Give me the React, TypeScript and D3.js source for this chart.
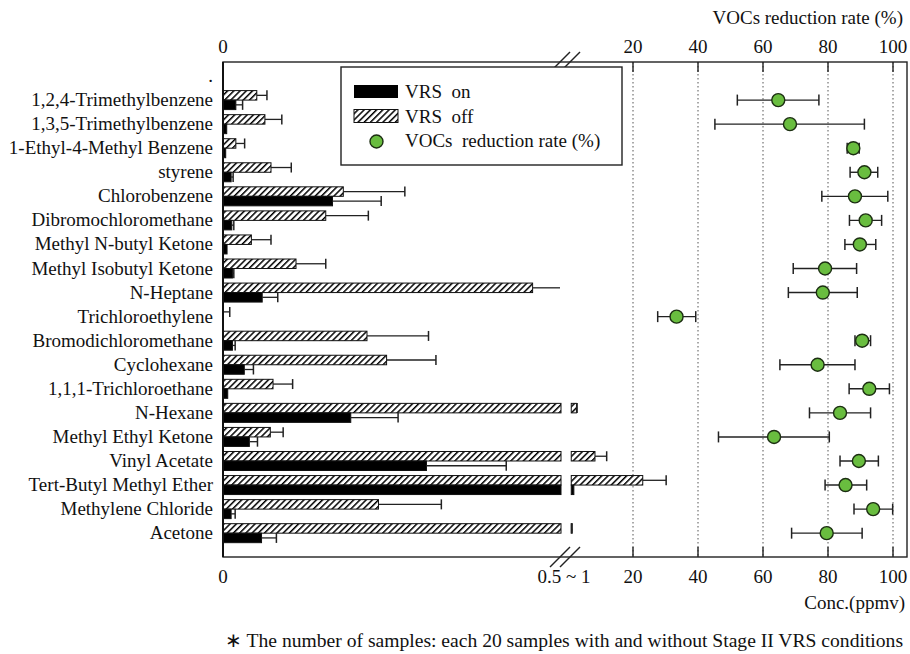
import { useRef, useEffect } from "react";
import * as d3 from "d3";

// categories top to bottom ("." is the empty first row in the original)
const categories = [
  ".",
  "1,2,4-Trimethylbenzene",
  "1,3,5-Trimethylbenzene",
  "1-Ethyl-4-Methyl Benzene",
  "styrene",
  "Chlorobenzene",
  "Dibromochloromethane",
  "Methyl N-butyl Ketone",
  "Methyl Isobutyl Ketone",
  "N-Heptane",
  "Trichloroethylene",
  "Bromodichloromethane",
  "Cyclohexane",
  "1,1,1-Trichloroethane",
  "N-Hexane",
  "Methyl Ethyl Ketone",
  "Vinyl Acetate",
  "Tert-Butyl Methyl Ether",
  "Methylene Chloride",
  "Acetone",
];

// Conc. (ppmv), VRS off (hatched) and its mean+SD end
const vrsOff = [null, 0.05, 0.062, 0.019, 0.071, 0.178, 0.152, 0.042, 0.108, 0.458, 0, 0.213, 0.242, 0.074, 2.6, 0.07, 8.3, 23, 0.23, 1.05];
const vrsOffErr = [null, 0.065, 0.087, 0.032, 0.101, 0.269, 0.215, 0.071, 0.152, 0.52, 0.01, 0.304, 0.315, 0.103, 2.8, 0.089, 11.9, 30.2, 0.323, 1.1];

// Conc. (ppmv), VRS on (black)
const vrsOn = [null, 0.019, 0.0055, 0.004, 0.012, 0.162, 0.013, 0.006, 0.014, 0.058, 0, 0.014, 0.0315, 0.007, 0.189, 0.039, 0.301, 1.8, 0.012, 0.057];
const vrsOnErr = [null, 0.029, 0.0055, 0.004, 0.015, 0.234, 0.016, 0.006, 0.016, 0.081, 0, 0.018, 0.045, 0.007, 0.259, 0.051, 0.419, 1.8, 0.018, 0.079];

// VOCs reduction rate (%) with low / high error ends
const reduction = [null, 64.7, 68.3, 87.8, 91.2, 88.3, 91.6, 89.8, 79.1, 78.4, 33.4, 90.5, 76.8, 92.7, 83.7, 63.4, 89.5, 85.4, 93.9, 79.6];
const reductionLow = [null, 52.1, 45.2, 85.9, 86.8, 78.1, 86.6, 85.2, 69.3, 67.8, 27.6, 88.3, 65.2, 86.5, 74.3, 46.3, 83.7, 79.1, 88.0, 68.8];
const reductionHigh = [null, 77.2, 91.2, 89.6, 95.3, 98.4, 96.5, 94.7, 88.8, 89.0, 39.3, 93.1, 88.3, 98.9, 93.1, 80.4, 95.5, 91.9, 99.9, 90.5];

const rightTicks = [20, 40, 60, 80, 100];

const width = 910;
const height = 654;
const frame = { left: 223, right: 907, top: 62, bottom: 557 };
const FONT = "'Liberation Serif', 'Times New Roman', serif";

const App = () => {
  const svgRef = useRef(null);

  useEffect(() => {
    document.body.style.margin = "0";
    const svg = d3.select(svgRef.current);
    svg.selectAll("*").remove();

    // broken x axis: 0..0.5 on the left, 1..100 on the right
    const xLeft = d3.scaleLinear().domain([0, 0.5]).range([frame.left, 561]);
    const xRight = d3.scaleLinear().domain([20, 100]).range([633, 893]);
    const breakX = 565;

    const y = d3.scaleBand().domain(categories).range([64, 545.2]).padding(0);
    const cy = (c) => y(c) + y.bandwidth() / 2;
    const barH = 9.5;

    const defs = svg.append("defs");
    const pat = defs
      .append("pattern")
      .attr("id", "hatch")
      .attr("patternUnits", "userSpaceOnUse")
      .attr("width", 4.4)
      .attr("height", 4.4)
      .attr("patternTransform", "rotate(45)");
    pat.append("rect").attr("width", 4.4).attr("height", 4.4).attr("fill", "#fff");
    pat.append("line").attr("x1", 0).attr("y1", 0).attr("x2", 0).attr("y2", 4.4)
      .attr("stroke", "#000").attr("stroke-width", 3);

    // dotted grid + inner ticks on the right segment
    rightTicks.forEach((t) => {
      const x = xRight(t);
      svg.append("line").attr("x1", x).attr("x2", x).attr("y1", frame.top).attr("y2", frame.bottom)
        .attr("stroke", "#555").attr("stroke-width", 1).attr("stroke-dasharray", "1.5,2.5");
      svg.append("line").attr("x1", x).attr("x2", x).attr("y1", frame.top).attr("y2", frame.top + 10)
        .attr("stroke", "#222").attr("stroke-width", 1.4);
      svg.append("line").attr("x1", x).attr("x2", x).attr("y1", frame.bottom - 10).attr("y2", frame.bottom)
        .attr("stroke", "#222").attr("stroke-width", 1.4);
    });

    // draw a bar on the broken scale
    const drawBar = (v, yTop, fill) => {
      if (v == null) return;
      const end = v <= 0.5 ? xLeft(v) : xLeft(0.5);
      if (end > frame.left) {
        svg.append("rect").attr("x", frame.left).attr("y", yTop).attr("width", end - frame.left)
          .attr("height", barH).attr("fill", fill).attr("stroke", "#111").attr("stroke-width", 1);
      }
      if (v > 0.5) {
        const s = xRight(1);
        const e = Math.max(xRight(v), s + 1);
        svg.append("rect").attr("x", s).attr("y", yTop).attr("width", e - s)
          .attr("height", barH).attr("fill", fill).attr("stroke", "#111").attr("stroke-width", 1);
      }
    };

    const drawErr = (v, err, yMid) => {
      if (v == null || err == null || err <= v) return;
      let x0, x1, cap = true;
      if (v <= 0.5) {
        x0 = xLeft(v);
        if (err > 0.5) {
          x1 = 560;
          cap = false;
        } else x1 = xLeft(err);
      } else {
        x0 = xRight(v);
        x1 = xRight(err);
      }
      svg.append("line").attr("x1", x0).attr("x2", x1).attr("y1", yMid).attr("y2", yMid)
        .attr("stroke", "#222").attr("stroke-width", 1.3);
      if (cap) {
        svg.append("line").attr("x1", x1).attr("x2", x1).attr("y1", yMid - 5).attr("y2", yMid + 5)
          .attr("stroke", "#222").attr("stroke-width", 1.5);
      }
    };

    categories.forEach((c, i) => {
      const m = cy(c);
      drawBar(vrsOff[i], m - barH, "url(#hatch)");
      drawBar(vrsOn[i], m, "#000");
      drawErr(vrsOff[i], vrsOffErr[i], m - barH / 2);
      drawErr(vrsOn[i], vrsOnErr[i], m + barH / 2);
    });

    // reduction rate points
    categories.forEach((c, i) => {
      if (reduction[i] == null) return;
      const m = cy(c);
      const lo = xRight(reductionLow[i]);
      const hi = xRight(reductionHigh[i]);
      svg.append("line").attr("x1", lo).attr("x2", hi).attr("y1", m).attr("y2", m)
        .attr("stroke", "#222").attr("stroke-width", 1.4);
      [lo, hi].forEach((x) => {
        svg.append("line").attr("x1", x).attr("x2", x).attr("y1", m - 5.5).attr("y2", m + 5.5)
          .attr("stroke", "#222").attr("stroke-width", 1.5);
      });
      svg.append("circle").attr("cx", xRight(reduction[i])).attr("cy", m).attr("r", 6.5)
        .attr("fill", "#69bd3f").attr("stroke", "#1c2e12").attr("stroke-width", 1.4);
    });

    // frame
    svg.append("rect").attr("x", frame.left).attr("y", frame.top)
      .attr("width", frame.right - frame.left).attr("height", frame.bottom - frame.top)
      .attr("fill", "none").attr("stroke", "#222").attr("stroke-width", 1.4);
    svg.append("line").attr("x1", frame.left).attr("x2", frame.left).attr("y1", frame.top).attr("y2", frame.bottom)
      .attr("stroke", "#111").attr("stroke-width", 2);

    // break marks
    [frame.top, frame.bottom].forEach((yy) => {
      [-5, 5].forEach((dx) => {
        svg.append("line").attr("x1", breakX + dx - 10).attr("y1", yy + 10)
          .attr("x2", breakX + dx + 10).attr("y2", yy - 10)
          .attr("stroke", "#222").attr("stroke-width", 1.4);
      });
    });

    // legend
    const lg = svg.append("g");
    lg.append("rect").attr("x", 341).attr("y", 67).attr("width", 281).attr("height", 98)
      .attr("fill", "#fff").attr("stroke", "#222").attr("stroke-width", 1.4);
    lg.append("rect").attr("x", 354).attr("y", 85).attr("width", 44).attr("height", 13).attr("fill", "#000");
    lg.append("rect").attr("x", 354).attr("y", 109.5).attr("width", 44).attr("height", 13)
      .attr("fill", "url(#hatch)").attr("stroke", "#111").attr("stroke-width", 1);
    lg.append("circle").attr("cx", 376.5).attr("cy", 141.5).attr("r", 6.5)
      .attr("fill", "#69bd3f").attr("stroke", "#1c2e12").attr("stroke-width", 1.4);
    const legendText = ["VRS  on", "VRS  off", "VOCs  reduction rate (%)"];
    legendText.forEach((t, i) => {
      lg.append("text").attr("x", 405).attr("y", 98 + i * 24.5).text(t)
        .style("white-space", "pre").attr("font-family", FONT).attr("font-size", 19).attr("fill", "#111");
    });

    // category labels
    categories.forEach((c) => {
      svg.append("text").attr("x", 213).attr("y", cy(c) + 6).attr("text-anchor", "end")
        .attr("font-family", FONT).attr("font-size", 19).attr("fill", "#111").text(c);
    });

    // tick labels top / bottom
    const tickText = (x, yy, t) =>
      svg.append("text").attr("x", x).attr("y", yy).attr("text-anchor", "middle")
        .attr("font-family", FONT).attr("font-size", 19).attr("fill", "#111").text(t);
    tickText(frame.left, 53, "0");
    tickText(frame.left, 583, "0");
    rightTicks.forEach((t) => {
      tickText(xRight(t), 53, String(t));
      tickText(xRight(t), 583, String(t));
    });
    tickText(564, 583, "0.5 ~ 1");

    svg.append("text").attr("x", 903).attr("y", 24).attr("text-anchor", "end")
      .attr("font-family", FONT).attr("font-size", 19).attr("fill", "#111").text("VOCs reduction rate (%)");
    svg.append("text").attr("x", 905).attr("y", 609).attr("text-anchor", "end")
      .attr("font-family", FONT).attr("font-size", 19).attr("fill", "#111").text("Conc.(ppmv)");
    svg.append("text").attr("x", 225).attr("y", 647)
      .attr("font-family", FONT).attr("font-size", 19.6).attr("fill", "#111")
      .text("\u2217 The number of samples: each 20 samples with and without Stage II VRS conditions");
  }, []);

  return <svg ref={svgRef} width={width} height={height} style={{ display: "block", background: "#fff" }}></svg>;
};

export default App;
